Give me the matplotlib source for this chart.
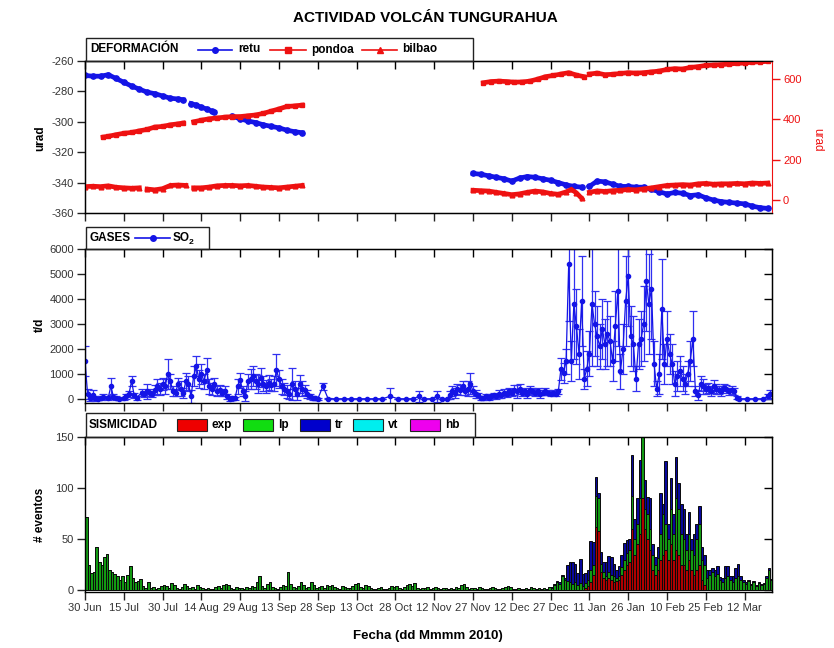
import numpy as np
import matplotlib
matplotlib.use("Agg")
import matplotlib.pyplot as plt
from matplotlib.patches import Rectangle
from matplotlib.lines import Line2D

plt.rcParams['font.family'] = ['Liberation Sans', 'DejaVu Sans']
plt.rcParams['axes.unicode_minus'] = False

# ---------------- datos ----------------
# eje x: dias desde el 30 de junio
etiquetas_x = ["30 Jun", "15 Jul", "30 Jul", "14 Aug", "29 Aug", "13 Sep", "28 Sep",
               "13 Oct", "28 Oct", "12 Nov", "27 Nov", "12 Dec", "27 Dec", "11 Jan",
               "26 Jan", "10 Feb", "25 Feb", "12 Mar"]
nan = np.nan

# deformacion (retu en eje izquierdo, pondoa y bilbao en eje derecho)
retu_dias = ([0, 3, 6, 9, 12, 15, 18, 21, 24, 27, 30, 33, 36, 38, 39.5,
              41, 43, 45, 47, 49, 50, 53,
              57, 60, 63, 66, 69, 72, 75, 78, 81, 84, 100]
             + list(range(150, 193, 3)) + [193.5] + list(range(195, 265, 3)))
retu = [-269.5, -270, -270, -269, -271.5, -274, -276.5, -278.5, -280.5, -281.5, -283, -284.5, -285, -285.5, nan,
        -288, -289, -290.5, -291.5, -293, -293.5, nan,
        -296.5, -298, -299.5, -300.5, -302, -303, -304, -305.5, -306.5, -307.2, nan,
        -334, -334.5, -335.5, -336.5, -337.5, -339, -337, -336, -336.5, -337.5, -338.5, -340, -341.5, -342.5, -343, nan,
        -342.5, -339, -339.5, -341, -342.5, -342.5, -343, -343, -344.5, -346, -347.5, -346.5, -347, -348.5,
        -348, -350, -351.5, -352.5, -353, -353.5, -354, -355.5, -356.5, -357]

pondoa_dias = ([7, 9, 12, 15, 18, 21, 24, 27, 30, 33, 36, 38, 40]
               + list(range(42, 85, 3)) + [100]
               + list(range(154, 194, 3)) + [194] + list(range(195, 265, 3)))
pondoa = [312, 316, 324, 331, 335, 343, 350, 362, 365, 373, 378, 382, nan,
          388, 396, 403, 407, 411, 414, 414, 418, 422, 430, 441, 452, 464, 467, 471, nan,
          582, 588, 590, 588, 585, 586, 590, 600, 612, 618, 625, 632, 620, 612, nan,
          625, 630, 622, 624, 628, 632, 630, 632, 636, 640, 648, 652, 650, 658, 662, 668,
          670, 672, 675, 678, 680, 684, 686, 688]

bilbao_dias = ([0, 3, 6, 9, 12, 15, 18, 21, 22.5, 24, 27, 30, 33, 36, 39, 40.5]
               + list(range(42, 85, 3)) + [100]
               + [150, 153, 156, 159, 162, 165, 168, 171, 174, 177, 180, 183, 186, 188, 190, 192, 193.5]
               + list(range(195, 265, 3)))
bilbao = [66, 68, 66, 70, 63, 60, 58, 60, nan, 54, 50, 56, 72, 74, 72, nan,
          60, 60, 64, 70, 72, 72, 70, 72, 68, 64, 62, 60, 64, 68, 72, nan,
          48, 46, 44, 38, 32, 26, 30, 38, 44, 40, 32, 28, 40, 52, 35, 8, nan,
          38, 45, 42, 46, 48, 52, 50, 55, 60, 66, 72, 74, 76, 74, 80, 82, 78, 80, 80, 82, 80, 84, 82, 84]

# gases SO2 (t/d)
so2_dias = ([0, 1, 2, 3, 4, 5, 6, 7, 9, 10, 11, 12, 13, 15, 16, 17, 18, 19, 20]
            + list(range(22, 91)) + [92, 94, 97, 100, 103, 106, 109, 112, 115, 118, 121, 124, 127,
                                     129, 131, 134, 136, 138, 140]
            + list(range(141, 253)) + [253, 256, 259, 262, 264, 265])
so2 = [1500, 200, 50, 150, 30, 0, 20, 80, 50, 500, 80, 30, 0, 20, 100, 200, 700, 150, 50,
       250, 200, 300, 250, 200, 350, 500, 400, 600, 500, 1000, 700, 300, 250, 600, 400, 250, 700,
       600, 100, 900, 1300, 800, 1000, 700, 1150, 500, 400, 600, 300, 350, 250, 300, 100, 0, 30,
       20, 500, 750, 300, 100, 700, 800, 900, 700, 600, 850, 600, 500, 650, 550, 600, 1150, 800,
       500, 400, 300, 200, 600, 400, 200, 600, 400, 350, 200, 100, 50, 20, 0,
       500, 0, 0, 0, 0, 0, 0, 0, 0, 100, 0, 0, 0, 100, 0, 0, 100, 0, 0,
       150, 300, 250, 400, 350, 500, 300, 400, 600, 300,
       200, 150, 50, 50, 100, 50, 100, 150, 100, 200,
       150, 250, 200, 300, 250, 350, 300, 400, 250, 300,
       200, 350, 300, 250, 300, 200, 250, 300, 250, 200,
       250, 200, 300, 1200, 1050, 1500, 5400, 1500, 3800, 2900,
       1800, 3900, 800, 1200, 1800, 3800, 3000, 2500, 2100, 2800,
       2200, 2600, 2300, 1500, 2900, 4300, 1100, 2000, 3900, 4900,
       2500, 2200, 800, 2200, 2400, 3000, 4700, 3800, 4400, 1400,
       400, 1000, 3600, 1400, 2400, 1800, 1400, 600, 900, 1100,
       800, 600, 1000, 1500, 2400, 300, 150, 600, 500, 400,
       450, 300, 500, 400, 350, 300, 450, 400, 300, 350,
       300, 50, 0, 0, 0, 0, 100, 200]
so2_error = [600, 200, 150, 200, 100, 50, 80, 100, 80, 330, 100, 80, 50, 60, 100, 120, 200, 100, 80,
             150, 130, 300, 150, 120, 200, 300, 250, 250, 300, 600, 300, 200, 150, 250, 300, 200, 350,
             300, 250, 400, 400, 350, 400, 300, 500, 300, 250, 250, 200, 200, 150, 200, 100, 80, 80,
             60, 300, 300, 200, 200, 300, 400, 400, 300, 350, 380, 300, 250, 300, 250, 300, 650, 350,
             300, 250, 250, 200, 650, 300, 250, 350, 300, 200, 150, 100, 80, 50, 30,
             130, 20, 0, 0, 0, 0, 0, 0, 0, 330, 0, 0, 0, 220, 0, 0, 220, 0, 0,
             150, 200, 200, 200, 200, 200, 150, 300, 420, 200,
             150, 100, 80, 80, 100, 80, 100, 100, 100, 150,
             100, 150, 120, 150, 150, 200, 250, 200, 150, 150,
             150, 150, 150, 150, 150, 150, 100, 150, 100, 100,
             100, 100, 100, 450, 400, 500, 2300, 800, 2200, 1500,
             1000, 1800, 400, 700, 900, 2500, 1300, 1200, 900, 1200,
             1000, 1300, 1000, 800, 1400, 2200, 700, 1000, 1800, 2000,
             1200, 1100, 500, 1000, 1100, 1500, 2000, 2000, 2000, 900,
             300, 800, 2000, 800, 1100, 800, 800, 500, 600, 600,
             500, 400, 500, 800, 1100, 200, 200, 300, 300, 200,
             200, 200, 250, 200, 150, 200, 150, 150, 150, 150,
             150, 50, 0, 0, 0, 0, 100, 150]

# sismicidad: eventos diarios
lp_inicio = [72, 25, 17, 18, 42, 28, 25, 33, 36, 20, 18, 16, 14, 10, 14, 8, 15, 24, 12, 8, 9, 11, 4, 2, 8, 2, 3, 1, 2, 4,
             5, 4, 2, 7, 5, 2, 1, 3, 6, 4, 2, 3, 1, 5, 3, 2, 1, 2, 1, 1, 3, 4, 2, 5, 6, 5, 2, 1, 3, 2,
             2, 1, 3, 2, 4, 3, 8, 14, 4, 2, 6, 8, 3, 2, 1, 3, 5, 4, 18, 6, 3, 2, 4, 8, 5, 2, 3, 8, 5, 2,
             3, 4, 2, 5, 4, 5, 3, 2, 1, 4, 3, 2, 2, 4, 6, 7, 3, 2, 5, 4, 2, 1, 1, 2, 3, 1, 1, 2, 4, 3,
             4, 2, 1, 3, 5, 6, 4, 7, 2, 1, 2, 2, 3, 1, 2, 3, 2, 1, 2, 2, 1, 2, 1, 3, 2, 5, 6, 3, 1, 2,
             2, 1, 3, 2, 1, 1, 2, 3, 2, 1, 1, 2, 3, 4, 3, 1, 1, 2, 1, 1, 2, 1, 3, 2, 1, 2]
exp_final = [0, 0, 0, 0, 0, 0, 0, 0, 0, 0,
             0, 0, 0, 0, 0, 0, 0, 2, 4, 8,
             15, 62, 58, 18, 12, 10, 12, 10, 8, 9,
             10, 15, 20, 25, 28, 60, 35, 45, 55, 90,
             60, 50, 40, 20, 15, 20, 30, 35, 40, 30,
             45, 30, 40, 35, 25, 25, 20, 30, 20, 15,
             20, 25, 10, 5, 0, 0, 0, 0, 0, 0,
             0, 0, 0, 0, 0, 0, 0, 0, 0, 0,
             0, 0, 0, 0, 0, 0, 0, 0, 0, 0]
lp_final = [1, 2, 1, 3, 2, 5, 8, 6, 14, 10,
            9, 8, 6, 8, 5, 7, 4, 5, 6, 12,
            10, 30, 32, 8, 6, 4, 6, 5, 6, 3,
            4, 8, 10, 12, 12, 32, 15, 20, 35, 60,
            20, 25, 20, 15, 10, 12, 25, 40, 25, 20,
            35, 25, 50, 45, 30, 25, 20, 25, 20, 20,
            30, 40, 20, 20, 12, 15, 18, 14, 16, 10,
            8, 12, 14, 10, 8, 12, 14, 10, 8, 6,
            9, 5, 8, 4, 7, 5, 6, 12, 20, 10]
tr_final = [0, 0, 0, 0, 1, 1, 1, 2, 1, 2,
            16, 20, 22, 18, 12, 24, 12, 10, 10, 28,
            22, 19, 5, 12, 10, 14, 16, 18, 12, 8,
            10, 12, 16, 12, 10, 40, 20, 25, 38, 0,
            28, 16, 30, 10, 8, 10, 40, 10, 62, 15,
            30, 20, 40, 25, 30, 30, 15, 22, 10, 20,
            15, 18, 12, 10, 8, 5, 4, 6, 8, 3,
            4, 12, 10, 4, 6, 10, 12, 4, 2, 2,
            1, 1, 1, 1, 1, 1, 1, 2, 2, 1]

# ---------------- figura ----------------
W, H = 834, 648
AZUL = '#1414e6'
ROJO = '#ee1111'

ceros = [0] * len(lp_inicio)
exp_ev = np.array(ceros + exp_final, dtype=float)
lp_ev = np.array(lp_inicio + lp_final, dtype=float)
tr_ev = np.array(ceros + tr_final, dtype=float)
dias_ev = np.arange(len(lp_ev))
ticks_x = np.arange(0, 15 * len(etiquetas_x), 15)
xmax = 265.6

fig = plt.figure(figsize=(W / 100, H / 100), dpi=100)


def rect(top, bottom):
    return [85 / W, 1 - bottom / H, 687 / W, (bottom - top) / H]


def estilo(ax, yticks, derecha=True, etiquetas=False):
    ax.set_xlim(0, xmax)
    ax.set_xticks(ticks_x)
    if etiquetas:
        ax.set_xticklabels(etiquetas_x)
    else:
        ax.set_xticklabels([])
    ax.set_yticks(yticks)
    ax.tick_params(direction='out', length=6, width=1, labelsize=8, colors='#222222',
                   labelcolor='#333333', pad=2)
    top = ax.secondary_xaxis('top')
    top.set_xticks(ticks_x)
    top.tick_params(direction='in', length=6, width=1, labeltop=False)
    if derecha:
        der = ax.secondary_yaxis('right')
        der.set_yticks(yticks)
        der.tick_params(direction='in', length=6, width=1, labelright=False)
    for s in ax.spines.values():
        s.set_linewidth(1)


# panel 1: deformacion
ax1 = fig.add_axes(rect(61, 213))
ax1.plot(retu_dias, retu, '-o', color=AZUL, lw=3.4, ms=3.8)
ax1.set_ylim(-360, -260)
estilo(ax1, [-360, -340, -320, -300, -280, -260], derecha=False)
ax1.spines['right'].set_visible(False)
ax1r = ax1.twinx()
ax1r.plot(pondoa_dias, pondoa, '-s', color=ROJO, lw=3.4, ms=3.4)
ax1r.plot(bilbao_dias, bilbao, '-^', color=ROJO, lw=3.4, ms=3.4)
ax1r.set_ylim(-65, 690)
ax1r.set_yticks([0, 200, 400, 600])
ax1r.tick_params(direction='out', length=6, width=1, labelsize=8, colors=ROJO, pad=2)
ax1r.spines['right'].set_color(ROJO)
ax1r.set_xlim(0, xmax)

# panel 2: gases
ax2 = fig.add_axes(rect(249, 402.5))
ax2.errorbar(so2_dias, so2, yerr=so2_error, fmt='-o', color=AZUL, ms=3, lw=0.9,
             elinewidth=0.9, ecolor='#3030f0', capsize=3, capthick=0.9)
ax2.set_ylim(-150, 6000)
estilo(ax2, [0, 1000, 2000, 3000, 4000, 5000, 6000])

# panel 3: sismicidad
ax3 = fig.add_axes(rect(437, 592))
kw = dict(width=1, align='edge', edgecolor='#0a0a0a', linewidth=0.7)
ax3.bar(dias_ev, exp_ev, color='#b00000', **kw)
ax3.bar(dias_ev, lp_ev, bottom=exp_ev, color='#129a12', **kw)
ax3.bar(dias_ev, tr_ev, bottom=exp_ev + lp_ev, color='#08089c', **kw)
ax3.set_ylim(-1.5, 150)
estilo(ax3, [0, 50, 100, 150], etiquetas=True)

# textos
fig.text(425 / W, 1 - 18 / H, 'ACTIVIDAD VOLCÁN TUNGURAHUA', ha='center', va='center',
         fontsize=11, fontweight='bold')
fig.text(428 / W, 1 - 636 / H, 'Fecha (dd Mmmm 2010)', ha='center', va='center',
         fontsize=9.5, fontweight='bold')
fig.text(40 / W, 1 - 138 / H, 'urad', rotation=90, ha='center', va='center', fontsize=8.5, fontweight='bold')
fig.text(40 / W, 1 - 325 / H, 't/d', rotation=90, ha='center', va='center', fontsize=8.5, fontweight='bold')
fig.text(40 / W, 1 - 515 / H, '# eventos', rotation=90, ha='center', va='center', fontsize=8.5, fontweight='bold')
fig.text(817 / W, 1 - 140 / H, 'urad', rotation=270, ha='center', va='center', fontsize=8.5, color=ROJO)


# cajas de leyenda
def caja(x0, x1, y0, y1):
    fig.add_artist(Rectangle((x0 / W, 1 - y1 / H), (x1 - x0) / W, (y1 - y0) / H,
                             transform=fig.transFigure, fill=False, lw=1, ec='#222222'))


def texto(x, y, s, size=8.5):
    fig.text(x / W, 1 - y / H, s, ha='left', va='center', fontsize=size, fontweight='bold')


def muestra(x0, x1, y, color, marker):
    fig.add_artist(Line2D([x0 / W, x1 / W], [1 - y / H] * 2, color=color, lw=1.2,
                          transform=fig.transFigure))
    fig.add_artist(Line2D([(x0 + x1) / 2 / W], [1 - y / H], marker=marker, color=color,
                          ms=4, transform=fig.transFigure))


def parche(x0, x1, y, color):
    fig.add_artist(Rectangle((x0 / W, 1 - (y + 6) / H), (x1 - x0) / W, 12 / H,
                             transform=fig.transFigure, fc=color, ec='#222222', lw=0.8))


caja(86, 473, 38, 61)
texto(90, 49.5, 'DEFORMACIÓN')
muestra(198, 232, 49.5, AZUL, 'o')
texto(238, 49.5, 'retu')
muestra(270, 306, 49.5, ROJO, 's')
texto(311, 49.5, 'pondoa')
muestra(362, 397, 49.5, ROJO, '^')
texto(402, 49.5, 'bilbao')

caja(86, 209, 227, 249)
texto(89, 238, 'GASES')
muestra(135, 170, 238, AZUL, 'o')
texto(173, 238, 'SO')
texto(189, 243, '2', size=6)

caja(86, 475, 413, 437)
texto(89, 425, 'SISMICIDAD')
for x0, color, nombre in [(177, '#ee0000', 'exp'), (243, '#11dd11', 'lp'), (300, '#0000cc', 'tr'),
                          (353, '#00eeee', 'vt'), (410, '#ee00ee', 'hb')]:
    parche(x0, x0 + 30, 425, color)
    texto(x0 + 35, 425, nombre)

fig.savefig('out.png', dpi=100)
